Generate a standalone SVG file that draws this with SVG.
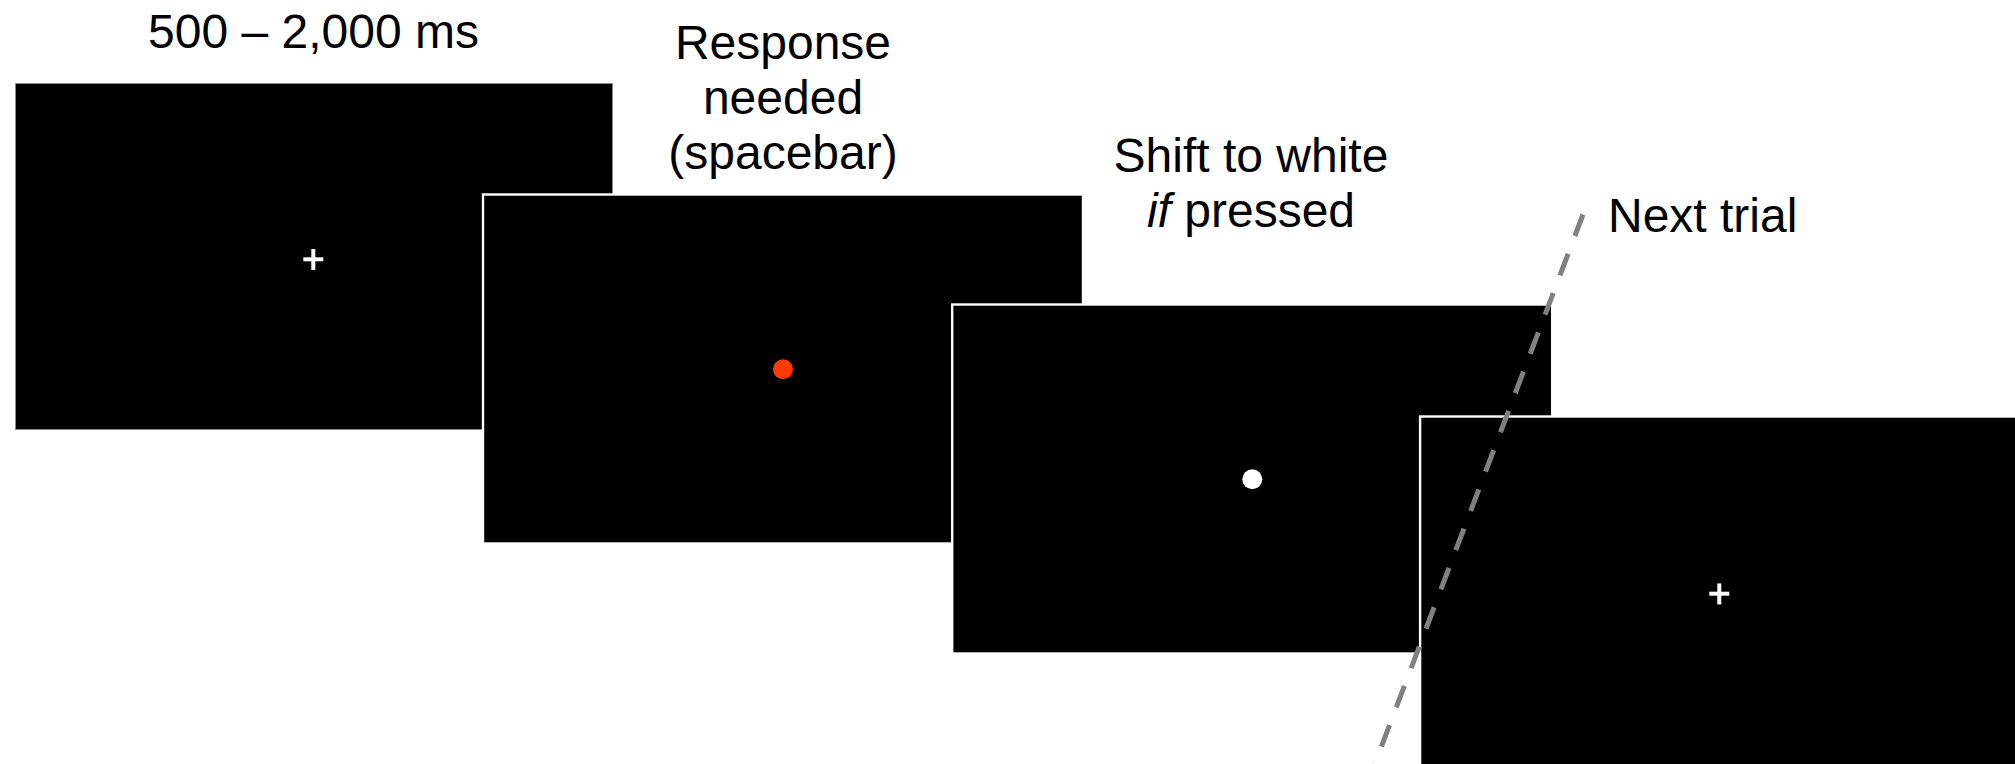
<svg xmlns="http://www.w3.org/2000/svg" width="2015" height="764" viewBox="0 0 2015 764">
  <style>
    .screen { fill: #000; stroke: #fff; stroke-width: 2.4; }
    .label { font-family: "Liberation Sans", Arial, sans-serif; font-size: 48px; fill: #000; text-anchor: middle; }
    .fix { stroke: #fff; stroke-width: 4; }
    .divider { stroke: #808080; stroke-width: 5; stroke-dasharray: 23 19; fill: none; }
  </style>

  <rect width="2015" height="764" fill="#fff"/>

  <!-- Screen 1: fixation cross -->
  <g id="screen-fixation">
    <rect x="15.5" y="83.5" width="597" height="346" fill="#000" stroke="#8a8a8a" stroke-width="1"/>
    <line class="fix" x1="303.3" y1="259.3" x2="323.3" y2="259.3"/>
    <line class="fix" x1="313.3" y1="249" x2="313.3" y2="270"/>
    <text class="label" x="313.5" y="48">500 – 2,000 ms</text>
  </g>

  <!-- Screen 2: red target -->
  <g id="screen-target">
    <rect class="screen" x="483" y="194.5" width="600" height="349"/>
    <circle cx="783" cy="369.3" r="10" fill="#ff3c00"/>
    <text class="label" x="783" y="59">Response</text>
    <text class="label" x="783" y="114">needed</text>
    <text class="label" x="783" y="169">(spacebar)</text>
  </g>

  <!-- Screen 3: white feedback dot -->
  <g id="screen-feedback">
    <rect class="screen" x="952.2" y="304.5" width="600" height="349"/>
    <circle cx="1252.3" cy="479.3" r="10" fill="#fff"/>
    <text class="label" x="1251" y="172">Shift to white</text>
    <text class="label" x="1251" y="227"><tspan font-style="italic">if</tspan> pressed</text>
  </g>

  <!-- Screen 4: next trial fixation -->
  <g id="screen-next">
    <rect class="screen" x="1420.1" y="416.5" width="600" height="349"/>
    <line class="fix" x1="1709.3" y1="593.7" x2="1729.3" y2="593.7"/>
    <line class="fix" x1="1719.3" y1="583.4" x2="1719.3" y2="604.4"/>
    <text class="label" x="1608" y="232" style="text-anchor:start">Next trial</text>
  </g>

  <!-- Trial boundary -->
  <g id="connectors">
    <line class="divider" x1="1583" y1="214.5" x2="1368.7" y2="780"/>
  </g>
</svg>
